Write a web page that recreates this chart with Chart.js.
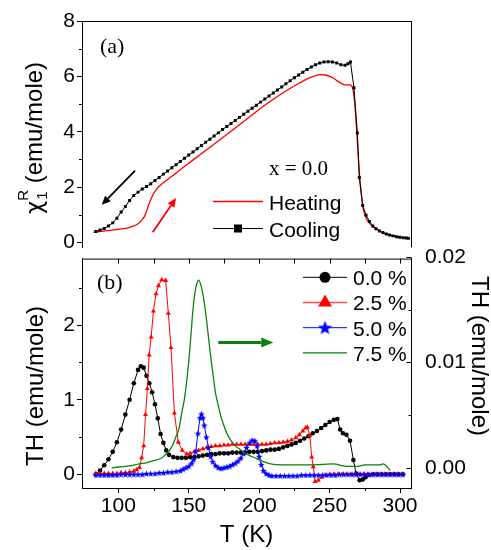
<!DOCTYPE html>
<html>
<head>
<meta charset="utf-8">
<title>chi1R and TH vs T</title>
<script src="https://cdn.jsdelivr.net/npm/chart.js@4.4.1/dist/chart.umd.min.js"></script>
<style>
  html, body { margin: 0; padding: 0; background: #fff; }
  #wrap { position: relative; width: 491px; height: 550px; overflow: hidden; }
  canvas { position: absolute; left: 0; }
  #chartA { top: 0; }
  #chartB { top: 240px; }
</style>
</head>
<body>
<div id="wrap">
  <canvas id="chartB" width="491" height="310"></canvas>
  <canvas id="chartA" width="491" height="262"></canvas>
</div>
<script>
// ─────────────────────────────────────────────
// 1. DATA
// ─────────────────────────────────────────────
// panel (a): chi1R, x = 0.0
const tCool = [84,87,90,93,96,99,102,105,108,111,114,117,120,123,126,129,132,135,138,141,
  144,147,150,153,156,159,162,165,168,171,174,177,180,183,186,189,192,195,198,201,
  204,207,210,213,216,219,222,225,228,231,234,237,240,243,246,249,252,255,258,261,
  263,264.8,267.3,269.7,271.1,273.5,275.9,278.3,280.7,283,285.4,287.8,290.2,292.6,295,297.4,299.8,302.2,304.6,306];
const chiCool = [0.40,0.45,0.51,0.60,0.71,0.88,1.10,1.30,1.52,1.70,1.82,1.93,2.02,2.12,2.24,2.35,2.47,2.58,2.70,2.81,
  2.93,3.04,3.16,3.27,3.39,3.50,3.62,3.73,3.85,3.96,4.08,4.19,4.30,4.41,4.52,4.63,4.74,4.85,4.96,5.07,
  5.18,5.29,5.40,5.51,5.62,5.73,5.84,5.95,6.05,6.15,6.25,6.34,6.42,6.48,6.52,6.53,6.52,6.48,6.42,6.40,
  6.46,6.52,5.59,3.96,2.35,1.34,0.99,0.76,0.60,0.50,0.42,0.36,0.31,0.27,0.24,0.21,0.19,0.17,0.16,0.15];

const tHeat = [82.3,88,94,100,106,110,114,116.5,119,121.5,124,126.5,129,132,135,140,146.2,152,158,
  170,181.6,193.5,205.4,217,229,237,243.2,247,252.6,256,259.7,262,264.5,266.2,267.5,269.3,270.5,271.6,273,
  274,276.3,279,282,286,290,295,300,306];
const chiHeat = [0.37,0.40,0.44,0.48,0.52,0.58,0.68,0.80,0.99,1.35,1.66,1.88,2.03,2.16,2.28,2.47,2.72,2.94,3.17,
  3.63,4.08,4.55,5.01,5.41,5.77,5.97,6.06,6.05,5.94,5.82,5.71,5.69,5.69,5.60,5.20,4.00,3.00,2.21,1.55,
  1.20,0.84,0.66,0.53,0.41,0.31,0.24,0.19,0.15];

// panel (b): TH for 0.0, 2.5, 5.0 % (left axis) and 7.5 % (right axis)
const t00 = [84,87,90,93,96,99,102,105,108,111,114,
  116,118,120,122,124,126,128,130,132,134,136,
  139,142,145,148,151,154,157,160,163,166,169,172,175,178,181,184,187,190,193,196,199,202,205,208,
  211,214,217,220,223,226,229,232,235,238,241,244,247,250,253,
  255.5,257.5,259.5,262,264.5,266.9,268.8,271.3,273.5,275.5,278,
  281,284,287,290,293,296,299,302];
const th00 = [0.00,0.05,0.12,0.20,0.30,0.43,0.60,0.80,1.00,1.22,1.40,
  1.45,1.43,1.32,1.22,1.10,0.94,0.75,0.54,0.42,0.32,0.26,
  0.23,0.22,0.22,0.22,0.23,0.23,0.24,0.25,0.26,0.27,0.27,0.28,0.28,0.28,0.29,0.29,0.29,0.29,0.30,0.30,0.30,0.31,0.32,0.33,
  0.33,0.34,0.36,0.38,0.40,0.42,0.45,0.48,0.51,0.55,0.58,0.62,0.66,0.70,0.73,
  0.74,0.60,0.55,0.53,0.45,0.19,0.01,-0.08,-0.07,-0.04,-0.01,
  0,0,0,0,0,0,0,0];

const t25 = [84,87,90,93,96,99,102,105,108,111,
  113,115,116.5,118,119.3,120.6,121.9,123.3,124.9,126.8,128.5,130.8,133.6,135.5,137.4,139.8,142.6,145.4,148.5,
  151,154,157,160,163,166,169,172,175,178,181,184,187,190,193,196,199,202,205,208,211,214,217,220,223,226,
  228.5,231,233,234.2,236,237.3,238.4,239.7,242,244.4,246.8,
  250,253,256,259,262,265,268,271,274,277,280,283,286,289,292,295,298,301];
const th25 = [0.01,0.01,0.01,0.01,0.01,0.01,0.02,0.02,0.03,0.04,
  0.06,0.09,0.22,0.38,0.80,1.15,1.60,1.84,2.19,2.42,2.53,2.61,2.60,2.16,1.70,0.82,0.43,0.32,0.27,
  0.28,0.30,0.32,0.34,0.36,0.37,0.38,0.38,0.39,0.39,0.40,0.40,0.40,0.40,0.40,0.40,0.40,0.40,0.40,0.41,0.42,0.42,0.43,0.44,0.46,0.49,
  0.53,0.58,0.62,0.63,0.52,0.23,0.10,-0.10,-0.08,-0.04,-0.01,
  0,0,0,0,0,0,0,0,0,0,0,0,0,0,0,0,0,0];

const t50 = [84,87,90,93,96,99,102,105,108,111,114,117,120,123,126,129,132,135,138,141,144,
  146,148,150,152,153.5,155,156.5,158,159,160,161,162.5,164,165.5,167,
  169,171,173,175,177,179,181,183,185,187,189,191,193,195,197,198.5,200,201.5,203,205,207,209,
  212,215,218,221,224,227,230,233,236,239,242,245,248,251,254,
  257,260,263,266,269,272,275,278,281,284,287,290,293,296,299,302];
const th50 = [-0.01,-0.01,-0.01,-0.01,-0.01,-0.01,0.00,0.00,0.00,0.00,0.00,0.00,0.01,0.01,0.01,0.02,0.02,0.03,0.03,0.04,0.05,
  0.07,0.09,0.11,0.15,0.20,0.31,0.55,0.76,0.81,0.76,0.66,0.50,0.36,0.24,0.17,
  0.12,0.09,0.08,0.09,0.10,0.11,0.13,0.15,0.18,0.22,0.28,0.36,0.42,0.46,0.45,0.38,0.24,0.13,0.05,0.01,-0.01,-0.02,
  -0.02,-0.02,-0.02,-0.02,-0.02,-0.02,-0.01,-0.01,-0.01,-0.01,-0.01,-0.01,-0.01,-0.01,-0.01,
  0,0,0,0,0,0,0,0,0,0,0,0,0,0,0,0];

const t75 = [95.3,100,108,115,120,125,130,133,136,139,141,143,145,147,148.5,150,151.5,153,154.5,156,
  157,158.5,160,161.5,163,164.5,166,167.5,169,171,173,175,177,180,183,186,189,193,198,203,
  208,215,225,235,245,253,258,262,270,275,280,286,288,293];
const th75 = [0.0000,0.0001,0.0002,0.0004,0.0005,0.0007,0.0009,0.0012,0.0016,0.0023,0.0030,0.0037,0.0052,0.0066,0.0082,0.0101,0.0125,0.0150,0.0167,0.0176,
  0.0178,0.0174,0.0165,0.0152,0.0136,0.0118,0.0101,0.0086,0.0071,0.0059,0.0048,0.0040,0.0033,0.0026,0.0021,0.0018,0.0015,0.0012,0.0009,0.0006,
  0.0004,0.0003,0.0003,0.0003,0.00035,0.0004,0.00025,0.00016,0.00016,0.0003,0.0003,0.0003,0.0004,-0.0002];

// tick labels
const xTicks  = [100, 150, 200, 250, 300];
const aTicks  = [0, 2, 4, 6, 8];
const bTicks  = [0, 1, 2];
const b2Ticks = [0, 0.01, 0.02];

// ─────────────────────────────────────────────
// 2. STYLE / LAYOUT CONSTANTS
// ─────────────────────────────────────────────
const SANS  = '"Liberation Sans", Arial, sans-serif';
const SERIF = '"Liberation Serif", "Times New Roman", serif';
const T_MIN = 74.2, T_MAX = 307.8;
const B_OFF = 240;                 // top of chartB canvas on the page
const RED = '#ff0000', BLUE = '#0000ff', GREEN = '#0a820a';

// arrow annotations, in data units [x1, y1, x2, y2]
const ARROW_COOL = [111.9, 2.60, 88.2, 1.36];
const ARROW_HEAT = [124.4, 0.37, 141.0, 1.61];
const ARROW_75   = [171, 0.0119, 210, 0.0119];

function toXY(xs, ys) {
  if (xs.length !== ys.length) console.warn('length mismatch', xs.length, ys.length);
  return xs.map((x, i) => ({ x: x, y: ys[i] }));
}

function makeStar(size, color) {
  const c = document.createElement('canvas');
  c.width = c.height = size;
  const g = c.getContext('2d');
  const r = size / 2, ri = r * 0.42;
  g.beginPath();
  for (let i = 0; i < 10; i++) {
    const a = -Math.PI / 2 + i * Math.PI / 5;
    const rr = i % 2 ? ri : r;
    g.lineTo(r + rr * Math.cos(a), r + 0.5 + rr * Math.sin(a));
  }
  g.closePath();
  g.fillStyle = color;
  g.fill();
  return c;
}
const starSmall = makeStar(7, BLUE);
const starBig   = makeStar(15, BLUE);

// ─────────────────────────────────────────────
// 3. DRAW HELPERS
// ─────────────────────────────────────────────
function line(ctx, x1, y1, x2, y2, color, lw) {
  ctx.save();
  ctx.strokeStyle = color; ctx.lineWidth = lw;
  ctx.beginPath(); ctx.moveTo(x1, y1); ctx.lineTo(x2, y2); ctx.stroke();
  ctx.restore();
}

function arrow(ctx, x1, y1, x2, y2, color, lw, hl, hw) {
  const a = Math.atan2(y2 - y1, x2 - x1);
  const bx = x2 - hl * Math.cos(a), by = y2 - hl * Math.sin(a);
  ctx.save();
  ctx.strokeStyle = color; ctx.fillStyle = color; ctx.lineWidth = lw;
  ctx.beginPath(); ctx.moveTo(x1, y1); ctx.lineTo(bx, by); ctx.stroke();
  ctx.beginPath();
  ctx.moveTo(x2, y2);
  ctx.lineTo(bx + hw * Math.sin(a), by - hw * Math.cos(a));
  ctx.lineTo(bx - hw * Math.sin(a), by + hw * Math.cos(a));
  ctx.closePath(); ctx.fill();
  ctx.restore();
}

function ticksY(ctx, scale, x, values, dx) {
  values.forEach(v => {
    const y = Math.round(scale.getPixelForValue(v)) + 0.5;
    line(ctx, x, y, x + dx, y, '#000', 1);
  });
}

function ticksX(ctx, scale, y, values, dy) {
  values.forEach(v => {
    const x = Math.round(scale.getPixelForValue(v)) + 0.5;
    line(ctx, x, y, x, y + dy, '#000', 1);
  });
}

function marker(ctx, style, x, y, r, color) {
  ctx.save();
  ctx.fillStyle = color;
  ctx.beginPath();
  if (style === 'circle') {
    ctx.arc(x, y, r, 0, Math.PI * 2);
  } else if (style === 'triangle') {
    ctx.moveTo(x, y - r);
    ctx.lineTo(x + r * 0.866, y + r * 0.5);
    ctx.lineTo(x - r * 0.866, y + r * 0.5);
    ctx.closePath();
  } else if (style === 'rect') {
    ctx.rect(x - r, y - r, 2 * r, 2 * r);
  } else if (style === 'star') {
    ctx.drawImage(starBig, x - starBig.width / 2, y - starBig.height / 2);
  }
  ctx.fill();
  ctx.restore();
}

function text(ctx, str, x, y, font, align) {
  ctx.save();
  ctx.fillStyle = '#000';
  ctx.font = font;
  ctx.textAlign = align || 'left';
  ctx.textBaseline = 'alphabetic';
  ctx.fillText(str, x, y);
  ctx.restore();
}

function rotatedText(ctx, str, x, y, font, angle) {
  ctx.save();
  ctx.translate(x, y);
  ctx.rotate(angle);
  ctx.fillStyle = '#000';
  ctx.font = font;
  ctx.textAlign = 'center';
  ctx.textBaseline = 'alphabetic';
  ctx.fillText(str, 0, 0);
  ctx.restore();
}

// ─────────────────────────────────────────────
// 4. PANEL (a) – chi1R
// ─────────────────────────────────────────────
const panelAExtras = {
  id: 'panelAExtras',
  afterDraw(chart) {
    const { ctx, chartArea: ca, scales } = chart;
    const sx = scales.x, sy = scales.y;

    // frame (top + right), bottom shared with panel b
    line(ctx, ca.left, ca.top + 0.5, ca.right + 0.5, ca.top + 0.5, '#000', 1);
    line(ctx, ca.right + 0.5, ca.top, ca.right + 0.5, ca.bottom, '#000', 1);
    ticksY(ctx, sy, ca.left, [1, 3, 5, 7], -3);

    // y title: chi_1^R (emu/mole)
    ctx.save();
    ctx.translate(42, 138);
    ctx.rotate(-Math.PI / 2);
    ctx.fillStyle = '#000';
    ctx.textBaseline = 'alphabetic';
    const big = '24px ' + SANS, small = '15px ' + SANS, chi = '23px "DejaVu Sans", ' + SANS;
    ctx.font = chi;
    const wChi = ctx.measureText('\u03c7').width;
    ctx.font = big;
    const wRest = ctx.measureText(' (emu/mole)').width;
    ctx.font = small;
    const wSub = Math.max(ctx.measureText('1').width, ctx.measureText('R').width);
    let x0 = -(wChi + wSub + wRest) / 2;
    ctx.font = chi;
    ctx.fillText('\u03c7', x0, 0);
    ctx.font = small;
    ctx.fillText('1', x0 + wChi + 1, 5);
    ctx.fillText('R', x0 + wChi, -14);
    ctx.font = big;
    ctx.fillText(' (emu/mole)', x0 + wChi + wSub, 0);
    ctx.restore();

    // annotations
    text(ctx, '(a)', 100, 53, '22px ' + SERIF);
    text(ctx, 'x = 0.0', 269, 175, '21px ' + SERIF);

    const a1 = ARROW_COOL, a2 = ARROW_HEAT;
    arrow(ctx, sx.getPixelForValue(a1[0]), sy.getPixelForValue(a1[1]),
               sx.getPixelForValue(a1[2]), sy.getPixelForValue(a1[3]), '#000', 1.8, 9, 4);
    arrow(ctx, sx.getPixelForValue(a2[0]), sy.getPixelForValue(a2[1]),
               sx.getPixelForValue(a2[2]), sy.getPixelForValue(a2[3]), RED, 1.8, 9, 4);

    // legend
    line(ctx, 213, 201.5, 263, 201.5, RED, 1.3);
    text(ctx, 'Heating', 269, 210, '21px ' + SANS);
    line(ctx, 213, 228.5, 263, 228.5, '#000', 1);
    marker(ctx, 'rect', 238, 228.5, 4, '#000');
    text(ctx, 'Cooling', 269, 237, '21px ' + SANS);
  }
};

const chartA = new Chart(document.getElementById('chartA'), {
  type: 'line',
  data: {
    datasets: [
      { label: 'Heating', data: toXY(tHeat, chiHeat), borderColor: RED, borderWidth: 1.3,
        pointRadius: 0, cubicInterpolationMode: 'monotone', order: 1 },
      { label: 'Cooling', data: toXY(tCool, chiCool), borderColor: '#000', borderWidth: 1,
        pointStyle: 'rect', pointRadius: 2.1, pointBackgroundColor: '#000', pointBorderWidth: 0,
        tension: 0, order: 0 }
    ]
  },
  options: {
    responsive: false, animation: false, devicePixelRatio: 1,
    layout: { padding: { top: 21, right: 80, bottom: 7, left: 0 } },
    plugins: { legend: { display: false }, tooltip: { enabled: false } },
    scales: {
      x: { type: 'linear', min: T_MIN, max: T_MAX, display: false },
      y: {
        type: 'linear', min: -0.176, max: 8,
        afterFit: s => { s.width = 82; },
        afterBuildTicks: s => { s.ticks = aTicks.map(v => ({ value: v })); },
        grid: { drawOnChartArea: false, tickLength: 5, color: '#000' },
        border: { color: '#000', width: 1 },
        ticks: { color: '#000', font: { family: SANS, size: 21 }, padding: 2 }
      }
    }
  },
  plugins: [panelAExtras]
});

// ─────────────────────────────────────────────
// 5. PANEL (b) – TH
// ─────────────────────────────────────────────
const panelBExtras = {
  id: 'panelBExtras',
  afterDraw(chart) {
    const { ctx, chartArea: ca, scales } = chart;
    const sx = scales.x, sy = scales.y, sy2 = scales.y2;

    // top frame line with inward ticks
    line(ctx, ca.left, ca.top + 0.5, ca.right + 0.5, ca.top + 0.5, '#000', 1);
    ticksX(ctx, sx, ca.top, [100, 125, 150, 175, 200, 225, 250, 275, 300], 5);
    ticksX(ctx, sx, ca.bottom, [125, 175, 225, 275], 3);
    ticksY(ctx, sy, ca.left, [0.5, 1.5, 2.5], -3);
    ticksY(ctx, sy2, ca.right + 0.5, b2Ticks, -5);
    ticksY(ctx, sy2, ca.right + 0.5, [0.005, 0.015], -3);

    // axis titles
    rotatedText(ctx, 'TH (emu/mole)', 43, 386 - B_OFF, '24px ' + SANS, -Math.PI / 2);
    rotatedText(ctx, 'TH (emu/mole)', 472, 356 - B_OFF, '24px ' + SANS, Math.PI / 2);
    text(ctx, 'T (K)', (ca.left + ca.right) / 2, 541.5 - B_OFF, '24px ' + SANS, 'center');

    text(ctx, '(b)', 97, 289 - B_OFF, '22px ' + SERIF);

    const g = ARROW_75;
    arrow(ctx, sx.getPixelForValue(g[0]), sy2.getPixelForValue(g[1]),
               sx.getPixelForValue(g[2]), sy2.getPixelForValue(g[3]), GREEN, 3, 12, 5);

    // legend
    const rows = [
      { name: '0.0 %', color: '#000', style: 'circle', r: 5.5, lw: 1 },
      { name: '2.5 %', color: '#ff4d4d', style: 'triangle', r: 8, lw: 1.3, mcol: RED },
      { name: '5.0 %', color: BLUE, style: 'star', r: 6, lw: 1 },
      { name: '7.5 %', color: GREEN, style: null, r: 0, lw: 1.3 }
    ];
    rows.forEach((row, i) => {
      const yc = 277.3 + i * 25.2 - B_OFF;
      line(ctx, 303, yc, 347, yc, row.color, row.lw);
      if (row.style) marker(ctx, row.style, 325, yc, row.r, row.mcol || row.color);
      text(ctx, row.name, 353, yc + 7.8, '21px ' + SANS);
    });
  }
};

const chartB = new Chart(document.getElementById('chartB'), {
  type: 'line',
  data: {
    datasets: [
      { label: '0.0 %', data: toXY(t00, th00), yAxisID: 'y', borderColor: '#000', borderWidth: 1,
        pointStyle: 'circle', pointRadius: 2.3, pointBackgroundColor: '#000', pointBorderWidth: 0,
        tension: 0, order: 3 },
      { label: '2.5 %', data: toXY(t25, th25), yAxisID: 'y', borderColor: RED, borderWidth: 1,
        pointStyle: 'triangle', pointRadius: 2.9, pointBackgroundColor: RED, pointBorderWidth: 0,
        tension: 0, order: 2 },
      { label: '5.0 %', data: toXY(t50, th50), yAxisID: 'y', borderColor: BLUE, borderWidth: 1,
        pointStyle: starSmall, pointRadius: 3, tension: 0, order: 1 },
      { label: '7.5 %', data: toXY(t75, th75), yAxisID: 'y2', borderColor: GREEN, borderWidth: 1.3,
        pointRadius: 0, cubicInterpolationMode: 'monotone', order: 0 }
    ]
  },
  options: {
    responsive: false, animation: false, devicePixelRatio: 1,
    layout: { padding: { top: 15, right: 0, bottom: 0, left: 0 } },
    plugins: { legend: { display: false }, tooltip: { enabled: false } },
    scales: {
      x: {
        type: 'linear', position: 'bottom', min: T_MIN, max: T_MAX,
        afterFit: s => { s.height = 62; },
        afterBuildTicks: s => { s.ticks = xTicks.map(v => ({ value: v })); },
        grid: { drawOnChartArea: false, tickLength: 5, color: '#000' },
        border: { color: '#000', width: 1 },
        ticks: { color: '#000', font: { family: SANS, size: 21 }, padding: 1,
                 maxRotation: 0, autoSkip: false }
      },
      y: {
        type: 'linear', position: 'left', min: -0.185, max: 2.894,
        afterFit: s => { s.width = 82; },
        afterBuildTicks: s => { s.ticks = bTicks.map(v => ({ value: v })); },
        grid: { drawOnChartArea: false, tickLength: 5, color: '#000' },
        border: { color: '#000', width: 1 },
        ticks: { color: '#000', font: { family: SANS, size: 21 }, padding: 2 }
      },
      y2: {
        type: 'linear', position: 'right', min: -0.00189, max: 0.01984,
        afterFit: s => { s.width = 80; },
        afterBuildTicks: s => { s.ticks = b2Ticks.map(v => ({ value: v })); },
        grid: { display: false },
        border: { color: '#000', width: 1 },
        ticks: { color: '#000', font: { family: SANS, size: 21 }, padding: 6,
                 callback: v => v.toFixed(2) }
      }
    }
  },
  plugins: [panelBExtras]
});
</script>
</body>
</html>
